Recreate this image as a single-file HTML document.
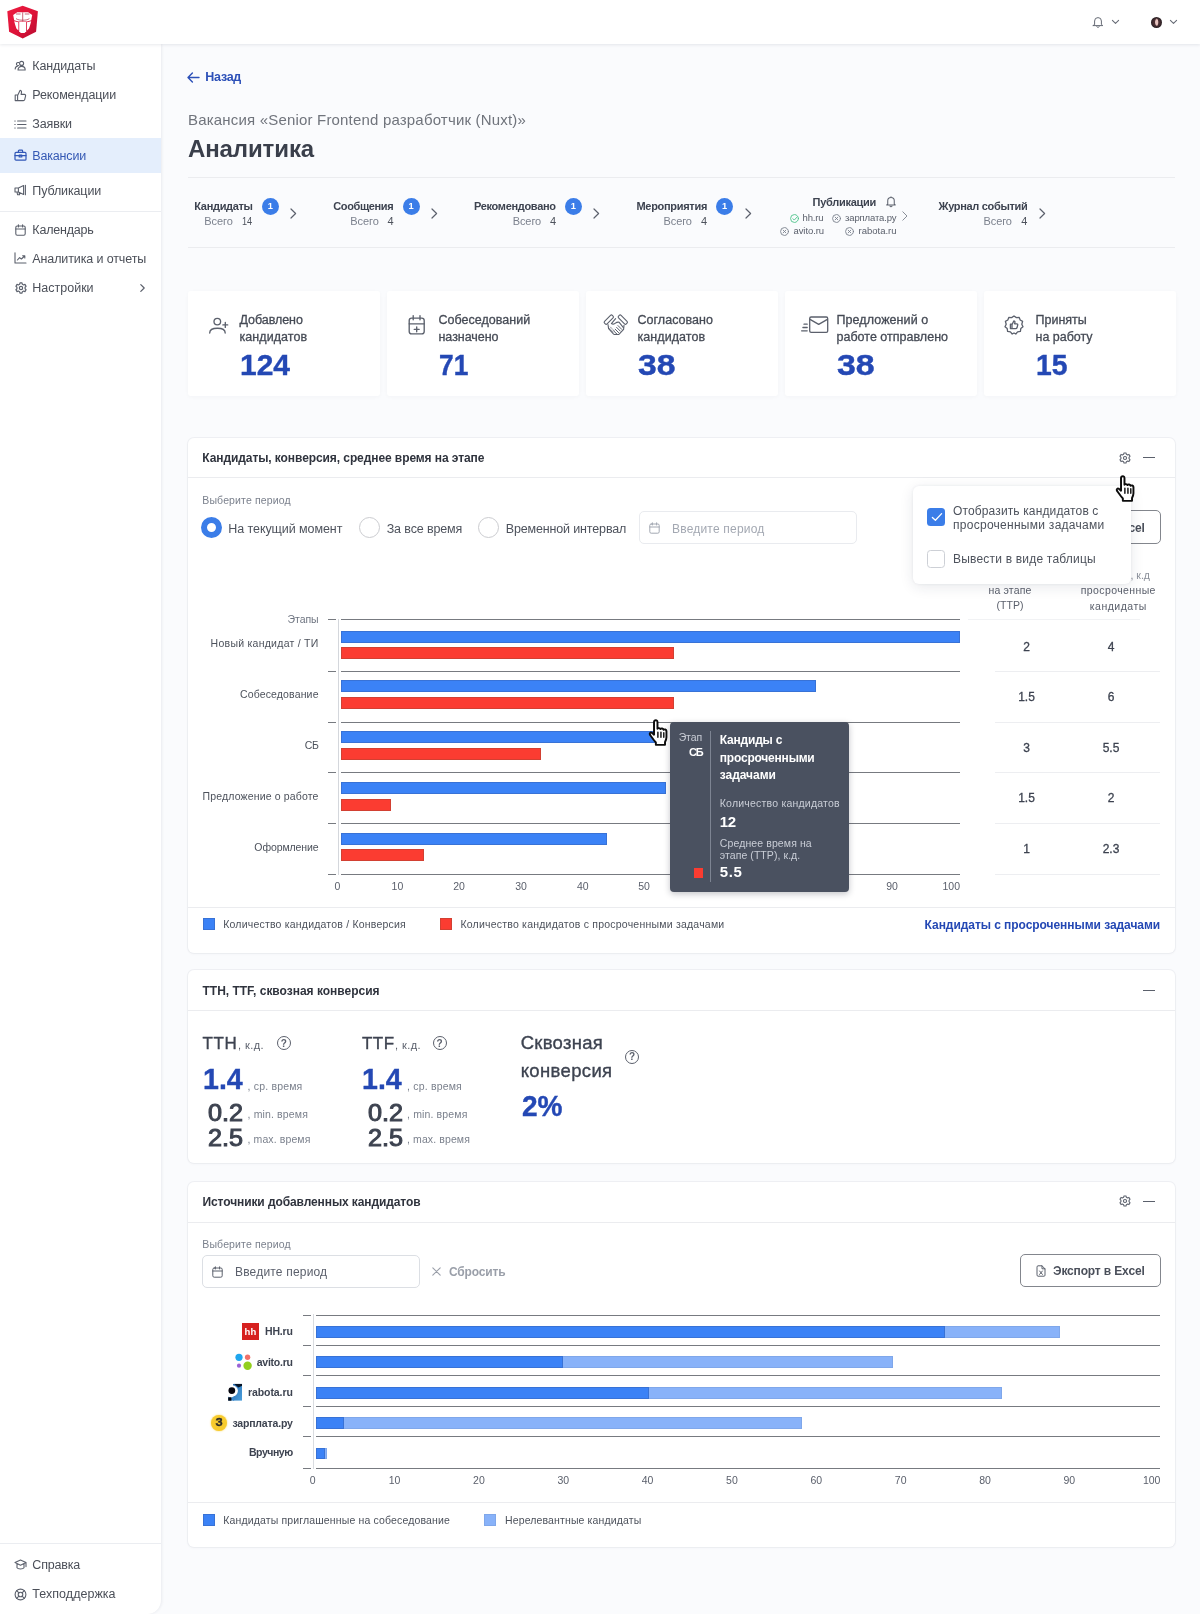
<!DOCTYPE html>
<html lang="ru">
<head>
<meta charset="utf-8">
<title>Аналитика</title>
<style>
*{box-sizing:border-box;margin:0;padding:0}
html,body{width:1200px;height:1614px;overflow:hidden}
body{font-family:"Liberation Sans",sans-serif;background:#fafbfd;color:#3d4350;position:relative;font-size:13px}
#root{position:absolute;left:0;top:0;width:1200px;height:1614px;will-change:transform}
.abs{position:absolute}
.t{position:absolute;white-space:nowrap;line-height:1}
svg{position:absolute;overflow:visible}
#hdr{position:absolute;left:0;top:0;width:1200px;height:44px;background:#fff;box-shadow:0 1px 3px rgba(30,40,70,.10)}
#side{position:absolute;left:0;top:44px;width:161px;height:1570px;background:#fff;border-bottom-right-radius:14px;box-shadow:1px 0 3px rgba(30,40,70,.075)}
.ico{stroke:#5b606c;fill:none;stroke-width:1.2;stroke-linecap:round;stroke-linejoin:round}
.card{position:absolute;background:#fff;border-radius:6px;box-shadow:0 0 0 1px rgba(230,232,237,.6),0 1px 3px rgba(30,40,70,.045)}
.stat{position:absolute;background:#fff;border-radius:3px;box-shadow:0 1px 4px rgba(30,40,70,.03)}
.hl{position:absolute;height:1px;background:#ebecef}
</style>
</head>
<body>
<div id="root">
<svg style="left:187px;top:72px" width="13" height="11" viewBox="0 0 13 11" fill="none" stroke="#2c50b8" stroke-width="1.4" stroke-linecap="round" stroke-linejoin="round"><path d="M12 5.5 H1.2 M5.4 1 L1 5.5 L5.4 10"/></svg>
<div class="t" style="left:205.30px;top:71.19px;font-size:12.5px;color:#2c50b8;font-weight:700;letter-spacing:-0.273px;">Назад</div>
<div class="t" style="left:188.00px;top:111.77px;font-size:15px;color:#70747c;letter-spacing:0.184px;">Вакансия «Senior Frontend разработчик (Nuxt)»</div>
<div class="t" style="left:188.00px;top:136.88px;font-size:24px;color:#3a3f4b;font-weight:700;letter-spacing:-0.115px;">Аналитика</div>
<div class="hl" style="left:188px;top:177px;width:987px"></div>
<div class="hl" style="left:188px;top:247px;width:987px"></div>
<div class="t" style="left:194.30px;top:200.63px;font-size:11px;color:#3d4350;font-weight:700;letter-spacing:-0.315px;">Кандидаты</div>
<div class="t" style="left:204.30px;top:215.93px;font-size:11px;color:#7b818d;letter-spacing:-0.088px;">Всего</div>
<div class="t" style="left:242.30px;top:215.93px;font-size:11px;color:#4d525c;transform:scaleX(0.8337);transform-origin:0 50%;width:12.23px;">14</div>
<div class="abs" style="left:261.8px;top:198.2px;width:17px;height:17px;border-radius:9px;background:#3b7de8"></div>
<div class="t" style="left:267.71px;top:202.36px;font-size:9.3px;color:#fff;font-weight:700;">1</div>
<svg style="left:290.3px;top:208px" width="7" height="11" viewBox="0 0 7 11" fill="none" stroke="#5b606c" stroke-width="1.2" stroke-linecap="round" stroke-linejoin="round"><path d="M1 1 L5.6 5.5 L1 10"/></svg>
<div class="t" style="left:333.30px;top:200.63px;font-size:11px;color:#3d4350;font-weight:700;letter-spacing:-0.378px;">Сообщения</div>
<div class="t" style="left:350.30px;top:215.93px;font-size:11px;color:#7b818d;letter-spacing:-0.088px;">Всего</div>
<div class="t" style="left:387.38px;top:215.93px;font-size:11px;color:#4d525c;">4</div>
<div class="abs" style="left:402.5px;top:198.2px;width:17px;height:17px;border-radius:9px;background:#3b7de8"></div>
<div class="t" style="left:408.41px;top:202.36px;font-size:9.3px;color:#fff;font-weight:700;">1</div>
<svg style="left:431px;top:208px" width="7" height="11" viewBox="0 0 7 11" fill="none" stroke="#5b606c" stroke-width="1.2" stroke-linecap="round" stroke-linejoin="round"><path d="M1 1 L5.6 5.5 L1 10"/></svg>
<div class="t" style="left:474.00px;top:200.63px;font-size:11px;color:#3d4350;font-weight:700;letter-spacing:-0.316px;">Рекомендовано</div>
<div class="t" style="left:512.70px;top:215.93px;font-size:11px;color:#7b818d;letter-spacing:-0.088px;">Всего</div>
<div class="t" style="left:549.88px;top:215.93px;font-size:11px;color:#4d525c;">4</div>
<div class="abs" style="left:564.8px;top:198.2px;width:17px;height:17px;border-radius:9px;background:#3b7de8"></div>
<div class="t" style="left:570.71px;top:202.36px;font-size:9.3px;color:#fff;font-weight:700;">1</div>
<svg style="left:593.3px;top:208px" width="7" height="11" viewBox="0 0 7 11" fill="none" stroke="#5b606c" stroke-width="1.2" stroke-linecap="round" stroke-linejoin="round"><path d="M1 1 L5.6 5.5 L1 10"/></svg>
<div class="t" style="left:636.50px;top:200.63px;font-size:11px;color:#3d4350;font-weight:700;letter-spacing:-0.302px;">Мероприятия</div>
<div class="t" style="left:663.50px;top:215.93px;font-size:11px;color:#7b818d;letter-spacing:-0.088px;">Всего</div>
<div class="t" style="left:700.88px;top:215.93px;font-size:11px;color:#4d525c;">4</div>
<div class="abs" style="left:716.0px;top:198.2px;width:17px;height:17px;border-radius:9px;background:#3b7de8"></div>
<div class="t" style="left:721.91px;top:202.36px;font-size:9.3px;color:#fff;font-weight:700;">1</div>
<svg style="left:744.5px;top:208px" width="7" height="11" viewBox="0 0 7 11" fill="none" stroke="#5b606c" stroke-width="1.2" stroke-linecap="round" stroke-linejoin="round"><path d="M1 1 L5.6 5.5 L1 10"/></svg>
<div class="t" style="left:938.50px;top:200.63px;font-size:11px;color:#3d4350;font-weight:700;letter-spacing:-0.312px;">Журнал событий</div>
<div class="t" style="left:983.50px;top:215.93px;font-size:11px;color:#7b818d;letter-spacing:-0.088px;">Всего</div>
<div class="t" style="left:1021.18px;top:215.93px;font-size:11px;color:#4d525c;">4</div>
<svg style="left:1038.5px;top:208px" width="7" height="11" viewBox="0 0 7 11" fill="none" stroke="#5b606c" stroke-width="1.2" stroke-linecap="round" stroke-linejoin="round"><path d="M1 1 L5.6 5.5 L1 10"/></svg>
<div class="t" style="left:812.50px;top:196.63px;font-size:11px;color:#3d4350;font-weight:700;letter-spacing:-0.270px;">Публикации</div>
<svg style="left:885px;top:194.5px" width="12" height="13" viewBox="0 0 14 14" class="ico"><path d="M3.2 10 V6.2 a3.8 3.8 0 0 1 7.6 0 V10 l1.2 1 H2 Z M5.8 12.4 a1.3 1.3 0 0 0 2.4 0 M7 1.4 V2.3"/></svg>
<svg style="left:789.5px;top:213.9px" width="9" height="9" viewBox="0 0 8 8" fill="none" stroke="#4cc38a" stroke-width="0.8" stroke-linecap="round"><circle cx="4" cy="4" r="3.5"/><path d="M2.6 4.2 L3.8 5.4 L6.2 2.8"/></svg>
<div class="t" style="left:802.50px;top:212.89px;font-size:9.5px;color:#5b606c;letter-spacing:-0.130px;">hh.ru</div>
<svg style="left:831.5px;top:213.9px" width="9" height="9" viewBox="0 0 8 8" fill="none" stroke="#7b818d" stroke-width="0.8" stroke-linecap="round"><circle cx="4" cy="4" r="3.5"/><path d="M2.8 2.8 L5.2 5.2 M5.2 2.8 L2.8 5.2"/></svg>
<div class="t" style="left:845.00px;top:212.89px;font-size:9.5px;color:#5b606c;letter-spacing:-0.116px;">зарплата.ру</div>
<svg style="left:779.5px;top:227.20000000000002px" width="9" height="9" viewBox="0 0 8 8" fill="none" stroke="#7b818d" stroke-width="0.8" stroke-linecap="round"><circle cx="4" cy="4" r="3.5"/><path d="M2.8 2.8 L5.2 5.2 M5.2 2.8 L2.8 5.2"/></svg>
<div class="t" style="left:793.50px;top:226.19px;font-size:9.5px;color:#5b606c;letter-spacing:-0.081px;">avito.ru</div>
<svg style="left:844.5px;top:227.20000000000002px" width="9" height="9" viewBox="0 0 8 8" fill="none" stroke="#7b818d" stroke-width="0.8" stroke-linecap="round"><circle cx="4" cy="4" r="3.5"/><path d="M2.8 2.8 L5.2 5.2 M5.2 2.8 L2.8 5.2"/></svg>
<div class="t" style="left:858.50px;top:226.19px;font-size:9.5px;color:#5b606c;">rabota.ru</div>
<svg style="left:902px;top:211px" width="6" height="10" viewBox="0 0 6 10" fill="none" stroke="#8a8f99" stroke-width="1" stroke-linecap="round" stroke-linejoin="round"><path d="M.8 .8 L5 5 L.8 9.2"/></svg>
<div class="stat" style="left:188px;top:291px;width:192px;height:104.7px"></div>
<div class="t" style="left:239.50px;top:314.19px;font-size:12.5px;color:#454a55;letter-spacing:-0.059px;-webkit-text-stroke:.3px #454a55;">Добавлено</div>
<div class="t" style="left:239.50px;top:331.49px;font-size:12.5px;color:#454a55;letter-spacing:0.068px;-webkit-text-stroke:.3px #454a55;">кандидатов</div>
<div class="t" style="left:239.50px;top:349.85px;font-size:30px;color:#2448b4;font-weight:700;transform:scaleX(0.9990);transform-origin:0 50%;width:50.05px;-webkit-text-stroke:.4px #2448b4;">124</div>
<div class="stat" style="left:387px;top:291px;width:192px;height:104.7px"></div>
<div class="t" style="left:438.50px;top:314.19px;font-size:12.5px;color:#454a55;letter-spacing:0.020px;-webkit-text-stroke:.3px #454a55;">Собеседований</div>
<div class="t" style="left:438.50px;top:331.49px;font-size:12.5px;color:#454a55;letter-spacing:-0.038px;-webkit-text-stroke:.3px #454a55;">назначено</div>
<div class="t" style="left:438.50px;top:349.85px;font-size:30px;color:#2448b4;font-weight:700;transform:scaleX(0.8781);transform-origin:0 50%;width:33.37px;-webkit-text-stroke:.4px #2448b4;">71</div>
<div class="stat" style="left:586px;top:291px;width:192px;height:104.7px"></div>
<div class="t" style="left:637.50px;top:314.19px;font-size:12.5px;color:#454a55;letter-spacing:0.032px;-webkit-text-stroke:.3px #454a55;">Согласовано</div>
<div class="t" style="left:637.50px;top:331.49px;font-size:12.5px;color:#454a55;letter-spacing:0.068px;-webkit-text-stroke:.3px #454a55;">кандидатов</div>
<div class="t" style="left:637.50px;top:349.85px;font-size:30px;color:#2448b4;font-weight:700;transform:scaleX(1.1239);transform-origin:0 50%;width:33.37px;-webkit-text-stroke:.4px #2448b4;">38</div>
<div class="stat" style="left:785px;top:291px;width:192px;height:104.7px"></div>
<div class="t" style="left:836.50px;top:314.19px;font-size:12.5px;color:#454a55;letter-spacing:0.081px;-webkit-text-stroke:.3px #454a55;">Предложений о</div>
<div class="t" style="left:836.50px;top:331.49px;font-size:12.5px;color:#454a55;letter-spacing:0.014px;-webkit-text-stroke:.3px #454a55;">работе отправлено</div>
<div class="t" style="left:836.50px;top:349.85px;font-size:30px;color:#2448b4;font-weight:700;transform:scaleX(1.1299);transform-origin:0 50%;width:33.37px;-webkit-text-stroke:.4px #2448b4;">38</div>
<div class="stat" style="left:984px;top:291px;width:192px;height:104.7px"></div>
<div class="t" style="left:1035.50px;top:314.19px;font-size:12.5px;color:#454a55;-webkit-text-stroke:.3px #454a55;">Приняты</div>
<div class="t" style="left:1035.50px;top:331.49px;font-size:12.5px;color:#454a55;letter-spacing:-0.020px;-webkit-text-stroke:.3px #454a55;">на работу</div>
<div class="t" style="left:1035.50px;top:349.85px;font-size:30px;color:#2448b4;font-weight:700;transform:scaleX(0.9441);transform-origin:0 50%;width:33.37px;-webkit-text-stroke:.4px #2448b4;">15</div>
<svg style="left:200px;top:310px" width="34" height="30" viewBox="200 310 34 30" fill="none" stroke="#5b606c" stroke-width="1.35" stroke-linecap="round" stroke-linejoin="round"><circle cx="217.3" cy="321.6" r="3.3"/><path d="M209.7 333 C209.7 329.4 212.2 328.2 217.4 328.2 C222.6 328.2 225.2 329.4 225.2 333 M225.3 322.4 V327.4 M222.9 324.9 H227.7"/></svg>
<svg style="left:400px;top:310px" width="34" height="30" viewBox="400 310 34 30" fill="none" stroke="#5b606c" stroke-width="1.35" stroke-linecap="round" stroke-linejoin="round"><rect x="409.2" y="318.1" width="15" height="15.8" rx="2.4"/><path d="M409.2 323.8 H424.2 M413.2 315.6 V319.8 M420 315.6 V319.8 M416.7 326.8 V331.8 M414.2 329.3 H419.2"/></svg>
<svg style="left:600px;top:310px" width="32" height="30" viewBox="600 310 32 30" fill="none" stroke="#5b606c" stroke-width="1.1" stroke-linecap="round" stroke-linejoin="round"><rect x="603.3" y="317.8" width="11" height="3.6" rx="1.3" transform="rotate(-45 608.8 319.6)"/><rect x="617.3" y="317.8" width="11" height="3.6" rx="1.3" transform="rotate(45 622.8 319.6)"/><path d="M608 324.6 L608.6 328.6 L613.4 333.8 C614.6 334.9 615.6 334.6 616.4 333.8 C617.4 334.8 618.6 334.7 619.4 333.8 L623.6 329.4 L624 325.4"/><path d="M615.6 318.6 L611.4 323.6 C612.6 324.4 614 324.2 615 323.4 C616.4 322.4 617.8 321.8 619 322.2 L623.4 327.6"/><path d="M618 325.6 L621.8 329.4 M616.6 327.4 L620.2 331 M615.2 329.2 L618.6 332.6 M613.8 331 L616.6 333.8" stroke-width="1"/><path d="M609.6 328.4 L613.4 332.2 M610.4 327 L614.6 331.2" stroke-width=".7" stroke-dasharray="1 1.1"/></svg>
<svg style="left:798px;top:312px" width="34" height="26" viewBox="798 312 34 26" fill="none" stroke="#5b606c" stroke-width="1.3" stroke-linecap="round" stroke-linejoin="round"><rect x="809.7" y="317" width="18" height="15.3" rx="1.4"/><path d="M810 319.4 L818.7 324.4 L827.4 319.4 M804 324.2 H807.2 M802.9 327.5 H807.2 M801.6 330.8 H807.2"/></svg>
<svg style="left:1004px;top:315px" width="20" height="20" viewBox="0 0 20 20" fill="none" stroke="#5b606c" stroke-width="1.3" stroke-linecap="round" stroke-linejoin="round" stroke-width="1.2"><path d="M10 1 L12.4 2.6 L15.2 2.4 L16.2 5 L18.6 6.4 L17.8 9.2 L19 11.8 L16.8 13.6 L16.4 16.4 L13.6 16.8 L11.8 19 L10 18 L8.2 19 L6.4 16.8 L3.6 16.4 L3.2 13.6 L1 11.8 L2.2 9.2 L1.4 6.4 L3.8 5 L4.8 2.4 L7.6 2.6 Z"/><path d="M6.4 9.2 H8 V13.6 H6.4 Z M8 9.6 L9.8 6 c.9 0 1.3 .7 1.1 1.5 L10.6 8.8 H12.8 c.7 0 1.1 .6 .9 1.2 L13 12.8 c-.2 .5-.6 .8-1.1 .8 H8"/></svg>
<div class="card" style="left:188px;top:438px;width:987px;height:515px"></div>
<div class="hl" style="left:188px;top:477px;width:987px"></div>
<div class="t" style="left:202.30px;top:452.34px;font-size:12px;color:#2f333d;font-weight:700;letter-spacing:-0.084px;">Кандидаты, конверсия, среднее время на этапе</div>
<svg style="left:1119px;top:451.5px" width="12" height="12" viewBox="0 0 13 13" fill="none" stroke="#5b606c" stroke-width="1.15" stroke-linecap="round" stroke-linejoin="round"><circle cx="6.5" cy="6.5" r="1.7"/><path d="M5.4 1 H7.6 L8 2.5 L9.4 3.2 L10.8 2.6 L12 4.6 L10.9 5.7 V7.3 L12 8.4 L10.8 10.4 L9.4 9.8 L8 10.5 L7.6 12 H5.4 L5 10.5 L3.6 9.8 L2.2 10.4 L1 8.4 L2.1 7.3 V5.7 L1 4.6 L2.2 2.6 L3.6 3.2 L5 2.5 Z"/></svg>
<div class="abs" style="left:1143px;top:457px;width:12px;height:1.2px;background:#5b606c;"></div>
<div class="t" style="left:202.30px;top:495.27px;font-size:10.5px;color:#7b818d;letter-spacing:0.133px;">Выберите период</div>
<div class="abs" style="left:200.5px;top:517.4px;width:21px;height:21px;border-radius:11px;border:6px solid #3b7de8;background:#fff"></div>
<div class="abs" style="left:359px;top:517.4px;width:21px;height:21px;border-radius:11px;border:1.3px solid #cbccd0;background:#fff"></div>
<div class="abs" style="left:478px;top:517.4px;width:21px;height:21px;border-radius:11px;border:1.3px solid #cbccd0;background:#fff"></div>
<div class="t" style="left:228.30px;top:523.09px;font-size:12.5px;color:#4d525c;letter-spacing:-0.076px;">На текущий момент</div>
<div class="t" style="left:386.70px;top:523.09px;font-size:12.5px;color:#4d525c;letter-spacing:-0.130px;">За все время</div>
<div class="t" style="left:505.70px;top:523.09px;font-size:12.5px;color:#4d525c;letter-spacing:-0.145px;">Временной интервал</div>
<div class="abs" style="left:639px;top:511px;width:218px;height:33px;border-radius:5px;border:1px solid #e9ebef;background:#fff"></div>
<svg style="left:649px;top:522px" width="11" height="12" viewBox="0 0 11 12" fill="none" stroke="#a3a8b2" stroke-width="1" stroke-linecap="round" stroke-linejoin="round"><rect x=".8" y="2" width="9.4" height="9.2" rx="1.4"/><path d="M.8 5 H10.2 M3.4 .8 V3 M7.6 .8 V3"/></svg>
<div class="t" style="left:672.00px;top:522.54px;font-size:12px;color:#a3a8b2;letter-spacing:0.201px;">Введите период</div>
<div class="abs" style="left:1020px;top:510px;width:140.5px;height:33.7px;border-radius:5px;border:1px solid #83868d;background:#fff"></div>
<div class="t" style="left:1053.00px;top:521.74px;font-size:12px;color:#4a4f5a;font-weight:700;letter-spacing:-0.159px;">Экспорт в Excel</div>
<div class="t" style="left:994.92px;top:570.47px;font-size:10.5px;color:#5b606c;">время</div>
<div class="t" style="left:1087.90px;top:570.47px;font-size:10.5px;color:#8a8f99;">Среднее, к.д</div>
<div class="t" style="left:988.50px;top:585.21px;font-size:10.5px;color:#5b606c;letter-spacing:0.158px;">на этапе</div>
<div class="t" style="left:996.50px;top:599.87px;font-size:10.5px;color:#5b606c;letter-spacing:0.035px;">(ТТР)</div>
<div class="t" style="left:1080.80px;top:585.21px;font-size:10.5px;color:#5b606c;letter-spacing:0.387px;">просроченные</div>
<div class="t" style="left:1089.80px;top:600.51px;font-size:10.5px;color:#5b606c;letter-spacing:0.495px;">кандидаты</div>
<div class="hl" style="left:968px;top:619px;width:172px;background:#f1f2f4"></div>
<div class="t" style="left:1023.16px;top:640.54px;font-size:12px;color:#3d4350;-webkit-text-stroke:.3px #3d4350;">2</div>
<div class="t" style="left:1107.66px;top:640.54px;font-size:12px;color:#3d4350;-webkit-text-stroke:.3px #3d4350;">4</div>
<div class="t" style="left:1018.16px;top:691.04px;font-size:12px;color:#3d4350;-webkit-text-stroke:.3px #3d4350;">1.5</div>
<div class="t" style="left:1107.66px;top:691.04px;font-size:12px;color:#3d4350;-webkit-text-stroke:.3px #3d4350;">6</div>
<div class="t" style="left:1023.16px;top:741.54px;font-size:12px;color:#3d4350;-webkit-text-stroke:.3px #3d4350;">3</div>
<div class="t" style="left:1102.66px;top:741.54px;font-size:12px;color:#3d4350;-webkit-text-stroke:.3px #3d4350;">5.5</div>
<div class="t" style="left:1018.16px;top:792.34px;font-size:12px;color:#3d4350;-webkit-text-stroke:.3px #3d4350;">1.5</div>
<div class="t" style="left:1107.66px;top:792.34px;font-size:12px;color:#3d4350;-webkit-text-stroke:.3px #3d4350;">2</div>
<div class="t" style="left:1023.16px;top:843.14px;font-size:12px;color:#3d4350;-webkit-text-stroke:.3px #3d4350;">1</div>
<div class="t" style="left:1102.66px;top:843.14px;font-size:12px;color:#3d4350;-webkit-text-stroke:.3px #3d4350;">2.3</div>
<div class="hl" style="left:995px;top:671px;width:165px;background:#edeef1"></div>
<div class="hl" style="left:995px;top:722px;width:165px;background:#edeef1"></div>
<div class="hl" style="left:995px;top:772px;width:165px;background:#edeef1"></div>
<div class="hl" style="left:995px;top:823px;width:165px;background:#edeef1"></div>
<div class="hl" style="left:995px;top:874px;width:165px;background:#edeef1"></div>
<div class="abs" style="left:338px;top:619px;width:1px;height:256px;background:#d4d7dc;"></div>
<div class="abs" style="left:327.5px;top:619px;width:8.5px;height:1px;background:#777a80;"></div>
<div class="abs" style="left:341.4px;top:619px;width:618.6px;height:1px;background:#777a80;"></div>
<div class="abs" style="left:327.5px;top:670.5px;width:8.5px;height:1px;background:#777a80;"></div>
<div class="abs" style="left:341.4px;top:670.5px;width:618.6px;height:1px;background:#777a80;"></div>
<div class="abs" style="left:327.5px;top:721.5px;width:8.5px;height:1px;background:#777a80;"></div>
<div class="abs" style="left:341.4px;top:721.5px;width:618.6px;height:1px;background:#777a80;"></div>
<div class="abs" style="left:327.5px;top:772px;width:8.5px;height:1px;background:#777a80;"></div>
<div class="abs" style="left:341.4px;top:772px;width:618.6px;height:1px;background:#777a80;"></div>
<div class="abs" style="left:327.5px;top:823px;width:8.5px;height:1px;background:#777a80;"></div>
<div class="abs" style="left:341.4px;top:823px;width:618.6px;height:1px;background:#777a80;"></div>
<div class="abs" style="left:327.5px;top:874px;width:8.5px;height:1px;background:#777a80;"></div>
<div class="abs" style="left:341.4px;top:874px;width:618.6px;height:1px;background:#777a80;"></div>
<div class="abs" style="left:341.4px;top:630.7px;width:618.6px;height:12px;background:#3b82f6;border:1px solid #3872d6;"></div>
<div class="abs" style="left:341.4px;top:647.1px;width:332.6px;height:12.1px;background:#fb3c31;border:1px solid #d24032;"></div>
<div class="abs" style="left:341.4px;top:680.1px;width:474.6px;height:12px;background:#3b82f6;border:1px solid #3872d6;"></div>
<div class="abs" style="left:341.4px;top:697px;width:332.6px;height:12.1px;background:#fb3c31;border:1px solid #d24032;"></div>
<div class="abs" style="left:341.4px;top:730.8px;width:314.6px;height:12px;background:#3b82f6;border:1px solid #3872d6;"></div>
<div class="abs" style="left:341.4px;top:747.8px;width:199.60000000000002px;height:12.1px;background:#fb3c31;border:1px solid #d24032;"></div>
<div class="abs" style="left:341.4px;top:781.5px;width:324.6px;height:12px;background:#3b82f6;border:1px solid #3872d6;"></div>
<div class="abs" style="left:341.4px;top:798.5px;width:49.60000000000002px;height:12.1px;background:#fb3c31;border:1px solid #d24032;"></div>
<div class="abs" style="left:341.4px;top:832.5px;width:266.1px;height:12px;background:#3b82f6;border:1px solid #3872d6;"></div>
<div class="abs" style="left:341.4px;top:849.2px;width:83.10000000000002px;height:12.1px;background:#fb3c31;border:1px solid #d24032;"></div>
<div class="t" style="left:287.60px;top:614.07px;font-size:10.5px;color:#6e7480;letter-spacing:-0.062px;">Этапы</div>
<div class="t" style="left:210.60px;top:638.17px;font-size:10.5px;color:#4d525c;letter-spacing:0.261px;">Новый кандидат / ТИ</div>
<div class="t" style="left:240.00px;top:689.27px;font-size:10.5px;color:#4d525c;letter-spacing:0.140px;">Собеседование</div>
<div class="t" style="left:304.70px;top:740.27px;font-size:10.5px;color:#4d525c;letter-spacing:-0.287px;">СБ</div>
<div class="t" style="left:202.50px;top:791.17px;font-size:10.5px;color:#4d525c;letter-spacing:0.157px;">Предложение о работе</div>
<div class="t" style="left:254.30px;top:841.87px;font-size:10.5px;color:#4d525c;letter-spacing:-0.087px;">Оформление</div>
<div class="t" style="left:334.58px;top:880.67px;font-size:10.5px;color:#5b606c;">0</div>
<div class="t" style="left:391.56px;top:880.67px;font-size:10.5px;color:#5b606c;">10</div>
<div class="t" style="left:453.16px;top:880.67px;font-size:10.5px;color:#5b606c;">20</div>
<div class="t" style="left:515.16px;top:880.67px;font-size:10.5px;color:#5b606c;">30</div>
<div class="t" style="left:576.96px;top:880.67px;font-size:10.5px;color:#5b606c;">40</div>
<div class="t" style="left:638.16px;top:880.67px;font-size:10.5px;color:#5b606c;">50</div>
<div class="t" style="left:700.16px;top:880.67px;font-size:10.5px;color:#5b606c;">60</div>
<div class="t" style="left:762.16px;top:880.67px;font-size:10.5px;color:#5b606c;">70</div>
<div class="t" style="left:824.16px;top:880.67px;font-size:10.5px;color:#5b606c;">80</div>
<div class="t" style="left:886.16px;top:880.67px;font-size:10.5px;color:#5b606c;">90</div>
<div class="t" style="left:942.48px;top:880.67px;font-size:10.5px;color:#5b606c;">100</div>
<div class="hl" style="left:188px;top:907px;width:987px"></div>
<div class="abs" style="left:202.5px;top:917.5px;width:12px;height:12px;background:#3b82f6;border:1px solid #3872d6;"></div>
<div class="t" style="left:223.20px;top:918.57px;font-size:10.5px;color:#4d525c;letter-spacing:0.205px;">Количество кандидатов / Конверсия</div>
<div class="abs" style="left:440px;top:917.5px;width:12px;height:12px;background:#fb3c31;border:1px solid #d24032;"></div>
<div class="t" style="left:460.40px;top:918.57px;font-size:10.5px;color:#4d525c;letter-spacing:0.218px;">Количество кандидатов с просроченными задачами</div>
<div class="t" style="left:924.60px;top:918.74px;font-size:12px;color:#2448b4;font-weight:700;letter-spacing:-0.052px;">Кандидаты с просроченными задачами</div>
<div class="abs" style="left:670px;top:722px;width:179px;height:169.5px;border-radius:4px;background:#4a5160;box-shadow:0 2px 6px rgba(20,25,40,.25)"></div>
<div class="t" style="left:678.70px;top:732.47px;font-size:10.5px;color:#c9cdd6;letter-spacing:-0.116px;">Этап</div>
<div class="t" style="left:689.00px;top:746.93px;font-size:11px;color:#fff;font-weight:700;letter-spacing:-1.175px;">СБ</div>
<div class="abs" style="left:710.3px;top:731px;width:1px;height:151px;background:#7d8492;"></div>
<div class="t" style="left:719.80px;top:733.84px;font-size:12px;color:#fff;font-weight:700;letter-spacing:-0.196px;">Кандиды с</div>
<div class="t" style="left:719.80px;top:751.78px;font-size:12px;color:#fff;font-weight:700;letter-spacing:-0.209px;">просроченными</div>
<div class="t" style="left:719.80px;top:769.08px;font-size:12px;color:#fff;font-weight:700;letter-spacing:-0.046px;">задачами</div>
<div class="t" style="left:719.80px;top:797.57px;font-size:10.5px;color:#c9cdd6;letter-spacing:0.210px;">Количество кандидатов</div>
<div class="t" style="left:719.80px;top:813.67px;font-size:15px;color:#fff;font-weight:700;letter-spacing:-0.341px;">12</div>
<div class="t" style="left:719.80px;top:837.57px;font-size:10.5px;color:#c9cdd6;letter-spacing:0.109px;">Среднее время на</div>
<div class="t" style="left:719.80px;top:850.37px;font-size:10.5px;color:#c9cdd6;letter-spacing:0.070px;">этапе (ТТР), к.д.</div>
<div class="t" style="left:719.80px;top:864.47px;font-size:15px;color:#fff;font-weight:700;letter-spacing:0.550px;">5.5</div>
<div class="abs" style="left:694px;top:868px;width:9px;height:9.5px;background:#fb3c31;"></div>
<div class="abs" style="left:913px;top:485.5px;width:217.5px;height:98px;border-radius:6px;background:#fff;box-shadow:0 3px 14px rgba(30,40,70,.10),0 0 3px rgba(30,40,70,.07)"></div>
<div class="abs" style="left:927.3px;top:508px;width:18px;height:18px;border-radius:3.5px;background:#3b7de8"></div>
<svg style="left:930.5px;top:512.3px" width="12" height="10" viewBox="0 0 12 10" fill="none" stroke="#fff" stroke-width="1.3" stroke-linecap="round" stroke-linejoin="round"><path d="M1.4 5.4 L4.4 8.2 L10.6 1.6"/></svg>
<div class="abs" style="left:927.3px;top:550px;width:18px;height:18px;border-radius:3.5px;border:1px solid #cdd0d6;background:#fff"></div>
<div class="t" style="left:953.00px;top:504.74px;font-size:12px;color:#4d525c;letter-spacing:0.134px;">Отобразить кандидатов с</div>
<div class="t" style="left:953.00px;top:519.18px;font-size:12px;color:#4d525c;letter-spacing:0.274px;">просроченными задачами</div>
<div class="t" style="left:953.00px;top:552.94px;font-size:12px;color:#4d525c;letter-spacing:0.198px;">Вывести в виде таблицы</div>
<svg style="left:1114.5px;top:474.5px" width="21" height="27.5" viewBox="0 0 20 27"><path d="M6.2 1.6 c1.2-.9 2.8-.2 2.8 1.4 V9.6 c.5-.9 2.6-.9 3 .3 c.6-.9 2.7-.7 3 .7 c.8-.8 2.8-.4 2.8 1.3 V18 c0 2-.6 3.2-1.4 4.6 V25.4 H7.4 V23 C5.6 21 3.2 17.6 1.6 15.4 c-.8-1.4 .6-2.8 2-1.8 L5.6 15.4 V3 c0-.6 .2-1.1 .6-1.4 Z" fill="#fff" stroke="#0c0c0c" stroke-width="1.9" stroke-linejoin="round"/><path d="M9.4 13 V18 M12.4 13 V18 M15.2 13.4 V18" stroke="#0c0c0c" stroke-width="1.4" stroke-linecap="round"/></svg>
<svg style="left:647.5px;top:718.5px" width="21" height="27.5" viewBox="0 0 20 27"><path d="M6.2 1.6 c1.2-.9 2.8-.2 2.8 1.4 V9.6 c.5-.9 2.6-.9 3 .3 c.6-.9 2.7-.7 3 .7 c.8-.8 2.8-.4 2.8 1.3 V18 c0 2-.6 3.2-1.4 4.6 V25.4 H7.4 V23 C5.6 21 3.2 17.6 1.6 15.4 c-.8-1.4 .6-2.8 2-1.8 L5.6 15.4 V3 c0-.6 .2-1.1 .6-1.4 Z" fill="#fff" stroke="#0c0c0c" stroke-width="1.9" stroke-linejoin="round"/><path d="M9.4 13 V18 M12.4 13 V18 M15.2 13.4 V18" stroke="#0c0c0c" stroke-width="1.4" stroke-linecap="round"/></svg>
<div class="card" style="left:188px;top:970px;width:987px;height:193px"></div>
<div class="hl" style="left:188px;top:1010px;width:987px"></div>
<div class="t" style="left:202.50px;top:984.74px;font-size:12px;color:#2f333d;font-weight:700;letter-spacing:-0.011px;">ТТН, TTF, сквозная конверсия</div>
<div class="abs" style="left:1143px;top:989.5px;width:12px;height:1.2px;background:#5b606c;"></div>
<div class="t" style="left:202.50px;top:1035.20px;font-size:17px;color:#3d4350;letter-spacing:0.652px;-webkit-text-stroke:.35px #3d4350;">ТТН</div>
<div class="t" style="left:238.10px;top:1040.16px;font-size:11px;color:#5b606c;letter-spacing:0.424px;">, к.д.</div>
<div class="abs" style="left:276.8px;top:1036.3px;width:14px;height:14px;border-radius:7px;border:1.1px solid #5b606c"></div>
<div class="t" style="left:280.75px;top:1038.71px;font-size:10px;color:#5b606c;font-weight:700;">?</div>
<div class="t" style="left:202.50px;top:1063.64px;font-size:30px;color:#2448b4;font-weight:700;transform:scaleX(0.9520);transform-origin:0 50%;width:41.70px;-webkit-text-stroke:.4px #2448b4;">1.4</div>
<div class="t" style="left:247.50px;top:1081.21px;font-size:10.5px;color:#7b818d;letter-spacing:0.189px;">, ср. время</div>
<div class="t" style="left:208.00px;top:1102.42px;font-size:23.5px;color:#3d4350;transform:scaleX(1.0715);transform-origin:0 50%;width:32.66px;-webkit-text-stroke:1px #3d4350;">0.2</div>
<div class="t" style="left:247.50px;top:1108.71px;font-size:10.5px;color:#7b818d;letter-spacing:0.146px;">, min. время</div>
<div class="t" style="left:208.00px;top:1127.02px;font-size:23.5px;color:#3d4350;transform:scaleX(1.0715);transform-origin:0 50%;width:32.66px;-webkit-text-stroke:1px #3d4350;">2.5</div>
<div class="t" style="left:247.50px;top:1133.81px;font-size:10.5px;color:#7b818d;letter-spacing:0.111px;">, max. время</div>
<div class="t" style="left:362.00px;top:1035.20px;font-size:17px;color:#3d4350;letter-spacing:0.450px;-webkit-text-stroke:.35px #3d4350;">TTF</div>
<div class="t" style="left:395.10px;top:1040.16px;font-size:11px;color:#5b606c;letter-spacing:0.424px;">, к.д.</div>
<div class="abs" style="left:432.6px;top:1036.3px;width:14px;height:14px;border-radius:7px;border:1.1px solid #5b606c"></div>
<div class="t" style="left:436.55px;top:1038.71px;font-size:10px;color:#5b606c;font-weight:700;">?</div>
<div class="t" style="left:362.00px;top:1063.64px;font-size:30px;color:#2448b4;font-weight:700;transform:scaleX(0.9520);transform-origin:0 50%;width:41.70px;-webkit-text-stroke:.4px #2448b4;">1.4</div>
<div class="t" style="left:407.00px;top:1081.21px;font-size:10.5px;color:#7b818d;letter-spacing:0.189px;">, ср. время</div>
<div class="t" style="left:367.50px;top:1102.42px;font-size:23.5px;color:#3d4350;transform:scaleX(1.0715);transform-origin:0 50%;width:32.66px;-webkit-text-stroke:1px #3d4350;">0.2</div>
<div class="t" style="left:407.00px;top:1108.71px;font-size:10.5px;color:#7b818d;letter-spacing:0.146px;">, min. время</div>
<div class="t" style="left:367.50px;top:1127.02px;font-size:23.5px;color:#3d4350;transform:scaleX(1.0715);transform-origin:0 50%;width:32.66px;-webkit-text-stroke:1px #3d4350;">2.5</div>
<div class="t" style="left:407.00px;top:1133.81px;font-size:10.5px;color:#7b818d;letter-spacing:0.111px;">, max. время</div>
<div class="t" style="left:520.70px;top:1034.26px;font-size:18.5px;color:#3d4350;letter-spacing:0.268px;-webkit-text-stroke:.35px #3d4350;">Сквозная</div>
<div class="t" style="left:520.70px;top:1061.63px;font-size:18.5px;color:#3d4350;letter-spacing:0.355px;-webkit-text-stroke:.35px #3d4350;">конверсия</div>
<div class="abs" style="left:625px;top:1049.8px;width:14px;height:14px;border-radius:7px;border:1.1px solid #5b606c"></div>
<div class="t" style="left:628.95px;top:1052.21px;font-size:10px;color:#5b606c;font-weight:700;">?</div>
<div class="t" style="left:522.30px;top:1090.55px;font-size:30px;color:#2448b4;font-weight:700;transform:scaleX(0.9341);transform-origin:0 50%;width:43.36px;-webkit-text-stroke:.4px #2448b4;">2%</div>
<div class="card" style="left:188px;top:1182px;width:987px;height:365px"></div>
<div class="hl" style="left:188px;top:1222px;width:987px"></div>
<div class="t" style="left:202.50px;top:1195.84px;font-size:12px;color:#2f333d;font-weight:700;letter-spacing:-0.098px;">Источники добавленных кандидатов</div>
<svg style="left:1119.3px;top:1195.3px" width="12" height="12" viewBox="0 0 13 13" fill="none" stroke="#5b606c" stroke-width="1.15" stroke-linecap="round" stroke-linejoin="round"><circle cx="6.5" cy="6.5" r="1.7"/><path d="M5.4 1 H7.6 L8 2.5 L9.4 3.2 L10.8 2.6 L12 4.6 L10.9 5.7 V7.3 L12 8.4 L10.8 10.4 L9.4 9.8 L8 10.5 L7.6 12 H5.4 L5 10.5 L3.6 9.8 L2.2 10.4 L1 8.4 L2.1 7.3 V5.7 L1 4.6 L2.2 2.6 L3.6 3.2 L5 2.5 Z"/></svg>
<div class="abs" style="left:1143px;top:1200.8px;width:12px;height:1.2px;background:#5b606c;"></div>
<div class="t" style="left:202.30px;top:1238.87px;font-size:10.5px;color:#7b818d;letter-spacing:0.133px;">Выберите период</div>
<div class="abs" style="left:201.6px;top:1254.7px;width:218px;height:33px;border-radius:5px;border:1px solid #dcdfe4;background:#fff"></div>
<svg style="left:212px;top:1266px" width="11" height="12" viewBox="0 0 11 12" fill="none" stroke="#5b606c" stroke-width="1" stroke-linecap="round" stroke-linejoin="round"><rect x=".8" y="2" width="9.4" height="9.2" rx="1.4"/><path d="M.8 5 H10.2 M3.4 .8 V3 M7.6 .8 V3"/></svg>
<div class="t" style="left:235.00px;top:1266.14px;font-size:12px;color:#5b606c;letter-spacing:0.187px;">Введите период</div>
<svg style="left:432px;top:1267px" width="9" height="9" viewBox="0 0 9 9" fill="none" stroke="#9a9fa9" stroke-width="1.1" stroke-linecap="round"><path d="M.8 .8 L8.2 8.2 M8.2 .8 L.8 8.2"/></svg>
<div class="t" style="left:449.00px;top:1265.94px;font-size:12px;color:#9a9fa9;font-weight:700;letter-spacing:-0.153px;">Сбросить</div>
<div class="abs" style="left:1019.5px;top:1253.6px;width:141px;height:33.5px;border-radius:5px;border:1px solid #83868d;background:#fff"></div>
<svg style="left:1036px;top:1264.5px" width="10" height="12" viewBox="0 0 10 12" fill="none" stroke="#5b606c" stroke-width="1" stroke-linecap="round" stroke-linejoin="round"><path d="M1 1.8 a1 1 0 0 1 1-1 H6 L9 3.8 V10.2 a1 1 0 0 1-1 1 H2 a1 1 0 0 1-1-1 Z M6 .8 V3.8 H9 M3.6 6 L6.4 9.4 M6.4 6 L3.6 9.4"/></svg>
<div class="t" style="left:1053.00px;top:1264.94px;font-size:12px;color:#4a4f5a;font-weight:700;letter-spacing:-0.159px;">Экспорт в Excel</div>
<div class="abs" style="left:313px;top:1314px;width:1px;height:155px;background:#d9dce0;"></div>
<div class="abs" style="left:302.5px;top:1314.5px;width:8px;height:1px;background:#777a80;"></div>
<div class="abs" style="left:316.4px;top:1314.5px;width:844px;height:1px;background:#777a80;"></div>
<div class="abs" style="left:302.5px;top:1344.7px;width:8px;height:1px;background:#777a80;"></div>
<div class="abs" style="left:316.4px;top:1344.7px;width:844px;height:1px;background:#777a80;"></div>
<div class="abs" style="left:302.5px;top:1375px;width:8px;height:1px;background:#777a80;"></div>
<div class="abs" style="left:316.4px;top:1375px;width:844px;height:1px;background:#777a80;"></div>
<div class="abs" style="left:302.5px;top:1405.5px;width:8px;height:1px;background:#777a80;"></div>
<div class="abs" style="left:316.4px;top:1405.5px;width:844px;height:1px;background:#777a80;"></div>
<div class="abs" style="left:302.5px;top:1436px;width:8px;height:1px;background:#777a80;"></div>
<div class="abs" style="left:316.4px;top:1436px;width:844px;height:1px;background:#777a80;"></div>
<div class="abs" style="left:302.5px;top:1468.2px;width:8px;height:1px;background:#777a80;"></div>
<div class="abs" style="left:316.4px;top:1468.2px;width:844px;height:1px;background:#777a80;"></div>
<div class="abs" style="left:316.3px;top:1326px;width:743.7px;height:11.8px;background:#88b2f9;border:1px solid #7fa7ea;"></div>
<div class="abs" style="left:316.3px;top:1326px;width:629.0px;height:11.8px;background:#3b82f6;border:1px solid #3872d6;"></div>
<div class="abs" style="left:316.3px;top:1356.2px;width:576.7px;height:11.8px;background:#88b2f9;border:1px solid #7fa7ea;"></div>
<div class="abs" style="left:316.3px;top:1356.2px;width:246.7px;height:11.8px;background:#3b82f6;border:1px solid #3872d6;"></div>
<div class="abs" style="left:316.3px;top:1386.8px;width:685.7px;height:11.8px;background:#88b2f9;border:1px solid #7fa7ea;"></div>
<div class="abs" style="left:316.3px;top:1386.8px;width:333.09999999999997px;height:11.8px;background:#3b82f6;border:1px solid #3872d6;"></div>
<div class="abs" style="left:316.3px;top:1417.2px;width:485.49999999999994px;height:11.8px;background:#88b2f9;border:1px solid #7fa7ea;"></div>
<div class="abs" style="left:316.3px;top:1417.2px;width:27.5px;height:11.8px;background:#3b82f6;border:1px solid #3872d6;"></div>
<div class="abs" style="left:316.3px;top:1447.6px;width:10.899999999999977px;height:11.8px;background:#88b2f9;border:1px solid #7fa7ea;"></div>
<div class="abs" style="left:316.3px;top:1447.6px;width:8.699999999999989px;height:11.8px;background:#3b82f6;border:1px solid #3872d6;"></div>
<div class="t" style="left:265.00px;top:1326.37px;font-size:10.5px;color:#3d4350;font-weight:700;letter-spacing:-0.177px;">HH.ru</div>
<div class="t" style="left:256.70px;top:1356.87px;font-size:10.5px;color:#3d4350;font-weight:700;letter-spacing:-0.240px;">avito.ru</div>
<div class="t" style="left:248.00px;top:1387.17px;font-size:10.5px;color:#3d4350;font-weight:700;letter-spacing:-0.089px;">rabota.ru</div>
<div class="t" style="left:232.40px;top:1417.67px;font-size:10.5px;color:#3d4350;font-weight:700;letter-spacing:-0.173px;">зарплата.ру</div>
<div class="t" style="left:249.00px;top:1447.27px;font-size:10.5px;color:#3d4350;font-weight:700;letter-spacing:-0.463px;">Вручную</div>
<div class="abs" style="left:242px;top:1323px;width:16.7px;height:16.7px;background:#d6201f"></div>
<div class="t" style="left:244.60px;top:1326.96px;font-size:9.5px;color:#fff;font-weight:700;">hh</div>
<svg style="left:230px;top:1350px" width="26" height="24" viewBox="230 1350 26 24"><circle cx="239" cy="1357.3" r="3.6" fill="#1fa6ee"/><circle cx="247.6" cy="1357.3" r="2.7" fill="#f0716a"/><circle cx="239" cy="1365.7" r="2.1" fill="#9a63d6"/><circle cx="247.6" cy="1365.7" r="4.2" fill="#92cf1e"/></svg>
<svg style="left:222px;top:1378px" width="28" height="28" viewBox="222 1378 28 28"><defs><linearGradient id="rg" x1="0" y1="0" x2="1" y2="1"><stop offset="0" stop-color="#2b6fb4"/><stop offset="1" stop-color="#4a9fdc"/></linearGradient><clipPath id="rc"><rect x="228.1" y="1383.8" width="14" height="17"/></clipPath></defs><g clip-path="url(#rc)"><rect x="233" y="1383.8" width="9.1" height="17" fill="url(#rg)"/><rect x="228.1" y="1396" width="6" height="4.8" fill="#3b88cc"/><path d="M234 1383.8 H242.1 V1385.8 L238.4 1387.4 Z" fill="#071426"/><circle cx="232.4" cy="1390.8" r="5.5" fill="#fff"/><path d="M228.1 1392 V1397.2 L231.6 1397.6 L236.4 1394.8 Z" fill="#fff"/><circle cx="231.8" cy="1390.6" r="3.4" fill="#04050e"/><rect x="228.1" y="1397.3" width="3.3" height="3.6" fill="#04050e"/></g></svg>
<div class="abs" style="left:211px;top:1414.6px;width:16px;height:16px;border-radius:9px;background:#f7cb2e;box-shadow:0 0 2px rgba(247,203,46,.8)"></div>
<div class="t" style="left:215.40px;top:1417.18px;font-size:11.5px;color:#2a2a2a;font-weight:700;-webkit-text-stroke:.4px #2a2a2a;">З</div>
<div class="t" style="left:309.68px;top:1474.87px;font-size:10.5px;color:#5b606c;">0</div>
<div class="t" style="left:388.76px;top:1474.87px;font-size:10.5px;color:#5b606c;">10</div>
<div class="t" style="left:473.10px;top:1474.87px;font-size:10.5px;color:#5b606c;">20</div>
<div class="t" style="left:557.44px;top:1474.87px;font-size:10.5px;color:#5b606c;">30</div>
<div class="t" style="left:641.78px;top:1474.87px;font-size:10.5px;color:#5b606c;">40</div>
<div class="t" style="left:726.12px;top:1474.87px;font-size:10.5px;color:#5b606c;">50</div>
<div class="t" style="left:810.46px;top:1474.87px;font-size:10.5px;color:#5b606c;">60</div>
<div class="t" style="left:894.80px;top:1474.87px;font-size:10.5px;color:#5b606c;">70</div>
<div class="t" style="left:979.14px;top:1474.87px;font-size:10.5px;color:#5b606c;">80</div>
<div class="t" style="left:1063.48px;top:1474.87px;font-size:10.5px;color:#5b606c;">90</div>
<div class="t" style="left:1142.88px;top:1474.87px;font-size:10.5px;color:#5b606c;">100</div>
<div class="hl" style="left:188px;top:1502px;width:987px"></div>
<div class="abs" style="left:202.5px;top:1513.8px;width:12px;height:12px;background:#3b82f6;border:1px solid #3872d6;"></div>
<div class="t" style="left:223.20px;top:1514.87px;font-size:10.5px;color:#4d525c;letter-spacing:0.149px;">Кандидаты приглашенные на собеседование</div>
<div class="abs" style="left:484.3px;top:1513.8px;width:12px;height:12px;background:#88b2f9;border:1px solid #7fa7ea;"></div>
<div class="t" style="left:505.00px;top:1514.87px;font-size:10.5px;color:#4d525c;letter-spacing:0.132px;">Нерелевантные кандидаты</div>
<div id="side"></div>
<div class="abs" style="left:0px;top:138.4px;width:161px;height:34.4px;background:#e4eefc;"></div>
<div class="hl" style="left:0;top:211px;width:161px;background:#ebedf1"></div>
<div class="hl" style="left:0;top:1543px;width:161px;background:#ebedf1"></div>
<div class="t" style="left:32.30px;top:59.99px;font-size:12.5px;color:#4b4f58;letter-spacing:-0.121px;">Кандидаты</div>
<div class="t" style="left:32.30px;top:89.19px;font-size:12.5px;color:#4b4f58;letter-spacing:-0.118px;">Рекомендации</div>
<div class="t" style="left:32.30px;top:118.29px;font-size:12.5px;color:#4b4f58;letter-spacing:-0.144px;">Заявки</div>
<div class="t" style="left:32.30px;top:150.29px;font-size:12.5px;color:#3559b4;letter-spacing:-0.175px;">Вакансии</div>
<div class="t" style="left:32.30px;top:185.09px;font-size:12.5px;color:#4b4f58;letter-spacing:-0.127px;">Публикации</div>
<div class="t" style="left:32.30px;top:223.69px;font-size:12.5px;color:#4b4f58;letter-spacing:-0.198px;">Календарь</div>
<div class="t" style="left:32.30px;top:252.69px;font-size:12.5px;color:#4b4f58;letter-spacing:-0.120px;">Аналитика и отчеты</div>
<div class="t" style="left:32.30px;top:281.69px;font-size:12.5px;color:#4b4f58;">Настройки</div>
<div class="t" style="left:32.30px;top:1558.79px;font-size:12.5px;color:#4b4f58;letter-spacing:-0.191px;">Справка</div>
<div class="t" style="left:32.30px;top:1587.89px;font-size:12.5px;color:#4b4f58;letter-spacing:0.038px;">Техподдержка</div>
<svg style="left:14px;top:59.8px" width="13" height="12" viewBox="0 0 13 12" fill="none" stroke="#5b606c" stroke-width="1.1" stroke-linecap="round" stroke-linejoin="round"><circle cx="7.6" cy="3.4" r="2"/><path d="M4 10 c0-2.4 1.6-3.6 3.6-3.6 s3.6 1.2 3.6 3.6 Z"/><path d="M4.6 2.6 a1.6 1.6 0 1 0 0 3 M1.2 9 c0-1.6 .9-2.6 2.3-2.8"/></svg>
<svg style="left:14px;top:88.6px" width="13" height="13" viewBox="0 0 13 13" fill="none" stroke="#5b606c" stroke-width="1.1" stroke-linecap="round" stroke-linejoin="round"><path d="M1.2 6 H3.6 V11.6 H1.2 Z M3.6 6.4 L6 1.4 c1.2 0 1.7 .9 1.5 1.9 L7.1 5.4 H10.4 c.9 0 1.4 .7 1.2 1.5 L10.7 10.6 c-.2 .6-.7 1-1.3 1 H3.6"/></svg>
<svg style="left:14px;top:119.6px" width="13" height="9" viewBox="0 0 13 9" fill="none" stroke="#5b606c" stroke-width="1.1" stroke-linecap="round" stroke-linejoin="round"><path d="M3.6 1 H12 M3.6 4.5 H12 M3.6 8 H12 M.8 1 H1.2 M.8 4.5 H1.2 M.8 8 H1.2"/></svg>
<svg style="left:14px;top:149px" width="13" height="12" viewBox="0 0 13 12" fill="none" stroke="#3157b7" stroke-width="1.2" stroke-linecap="round" stroke-linejoin="round"><rect x="1" y="3.4" width="11" height="7.8" rx="1"/><path d="M4.4 3.2 V2 a.8 .8 0 0 1 .8-.8 H7.8 a.8 .8 0 0 1 .8 .8 V3.2 M1 6.6 H12 M5.2 6 H7.8 V8 H5.2 Z"/></svg>
<svg style="left:14px;top:184px" width="13" height="12" viewBox="0 0 13 12" fill="none" stroke="#5b606c" stroke-width="1.1" stroke-linecap="round" stroke-linejoin="round"><path d="M1 4 H4.4 L9.6 1.6 V10.4 L4.4 8 H1 Z M4.4 4 V8 M3 8 L3.6 10.8 H5.6 L5 8.2 M11.4 1.2 V10.8"/></svg>
<svg style="left:15px;top:223.5px" width="11" height="12" viewBox="0 0 11 12" fill="none" stroke="#5b606c" stroke-width="1.1" stroke-linecap="round" stroke-linejoin="round"><rect x=".8" y="2" width="9.4" height="9.2" rx="1.4"/><path d="M.8 5 H10.2 M3.4 .8 V3 M7.6 .8 V3"/></svg>
<svg style="left:14px;top:252px" width="13" height="12" viewBox="0 0 13 12" fill="none" stroke="#5b606c" stroke-width="1.1" stroke-linecap="round" stroke-linejoin="round"><path d="M1 .8 V11 H12 M3.4 8 L5.6 5.6 L7.4 7 L10.6 4 M8.6 3.8 H10.8 V6"/></svg>
<svg style="left:14.7px;top:281.9px" width="12" height="12" viewBox="0 0 13 13" fill="none" stroke="#5b606c" stroke-width="1.25" stroke-linecap="round" stroke-linejoin="round"><circle cx="6.5" cy="6.5" r="1.8"/><path d="M5.4 1 H7.6 L8 2.5 L9.4 3.2 L10.8 2.6 L12 4.6 L10.9 5.7 V7.3 L12 8.4 L10.8 10.4 L9.4 9.8 L8 10.5 L7.6 12 H5.4 L5 10.5 L3.6 9.8 L2.2 10.4 L1 8.4 L2.1 7.3 V5.7 L1 4.6 L2.2 2.6 L3.6 3.2 L5 2.5 Z"/></svg>
<svg style="left:139.6px;top:284.3px" width="5" height="8" viewBox="0 0 5 8" fill="none" stroke="#5b606c" stroke-width="1.2" stroke-linecap="round" stroke-linejoin="round"><path d="M.8 .6 L4.2 4 L.8 7.4"/></svg>
<svg style="left:14px;top:1558.5px" width="13" height="12" viewBox="0 0 13 12" fill="none" stroke="#5b606c" stroke-width="1.1" stroke-linecap="round" stroke-linejoin="round"><path d="M6.5 1 L12 3.6 L6.5 6.2 L1 3.6 Z M3 4.8 V8.8 C4 10.4 9 10.4 10 8.8 V4.8 M12 3.6 V7.6"/></svg>
<svg style="left:14px;top:1587.5px" width="13" height="13" viewBox="0 0 13 13" fill="none" stroke="#5b606c" stroke-width="1.1" stroke-linecap="round" stroke-linejoin="round"><circle cx="6.5" cy="6.5" r="5.4"/><circle cx="6.5" cy="6.5" r="2.3"/><path d="M2.7 2.7 L4.9 4.9 M10.3 2.7 L8.1 4.9 M2.7 10.3 L4.9 8.1 M10.3 10.3 L8.1 8.1"/></svg>
<div id="hdr"></div>
<svg style="left:0;top:0" width="46" height="44" viewBox="0 0 46 44">
<defs><linearGradient id="lg" x1="0" y1="0" x2="1" y2="1"><stop offset="0" stop-color="#ee1c40"/><stop offset=".55" stop-color="#dd1238"/><stop offset="1" stop-color="#b50c30"/></linearGradient></defs>
<path d="M22.7 5.8 L37.9 11.2 L36.1 31.8 L22.7 38.5 L9.1 31.8 L7.3 11.2 Z" fill="url(#lg)"/>
<path d="M13.2 15 L17.2 12.2 L28.2 12.2 L32.2 15 L31.2 20.2 L27 21.4 L18.4 21.4 L14.2 20.2 Z" fill="#fff"/>
<path d="M14.2 21.2 L18.4 22.2 L18.4 30.6 L16.4 28.6 L15.4 25.4 Z M31.2 21.2 L27 22.2 L27 30.6 L29 28.6 L30 25.4 Z" fill="#fff"/>
<path d="M19.2 22 H26.2 V31.2 L24.6 33 H20.8 L19.2 31.2 Z" fill="#fff"/>
<path d="M22.7 12.4 V21.4 M16 14 H20.6 M24.8 14 H29.4 M16 18.6 C18 20 20.4 20.2 22.7 20.2 C25 20.2 27.4 20 29.4 18.6" stroke="#b3233f" stroke-width=".7" fill="none"/>
</svg>
<svg style="left:1092px;top:15.7px" width="12" height="12" viewBox="0 0 12 12" fill="none" stroke="#666b75" stroke-width="1" stroke-linecap="round" stroke-linejoin="round"><path d="M2.6 8.4 V5 a3.4 3.4 0 0 1 6.8 0 V8.4 l1.4 1.2 H1.2 Z M4.8 10.6 a1.3 1.3 0 0 0 2.4 0"/></svg>
<svg style="left:1112px;top:20px" width="7" height="4" viewBox="0 0 7 4" fill="none" stroke="#666b75" stroke-width="1.1" stroke-linecap="round" stroke-linejoin="round"><path d="M.4 .4 L3.5 3.4 L6.6 .4"/></svg>
<div class="abs" style="left:1150.5px;top:16.5px;width:11.5px;height:11.5px;border-radius:6px;background:radial-gradient(ellipse 18% 38% at 52% 48%,#e8c4c0 0 60%,rgba(232,196,192,0) 100%),radial-gradient(circle at 50% 50%,#4a2f33 0 40%,#221c20 75%)"></div>
<svg style="left:1170px;top:20px" width="7" height="4" viewBox="0 0 7 4" fill="none" stroke="#666b75" stroke-width="1.1" stroke-linecap="round" stroke-linejoin="round"><path d="M.4 .4 L3.5 3.4 L6.6 .4"/></svg>
</div>
</body>
</html>
